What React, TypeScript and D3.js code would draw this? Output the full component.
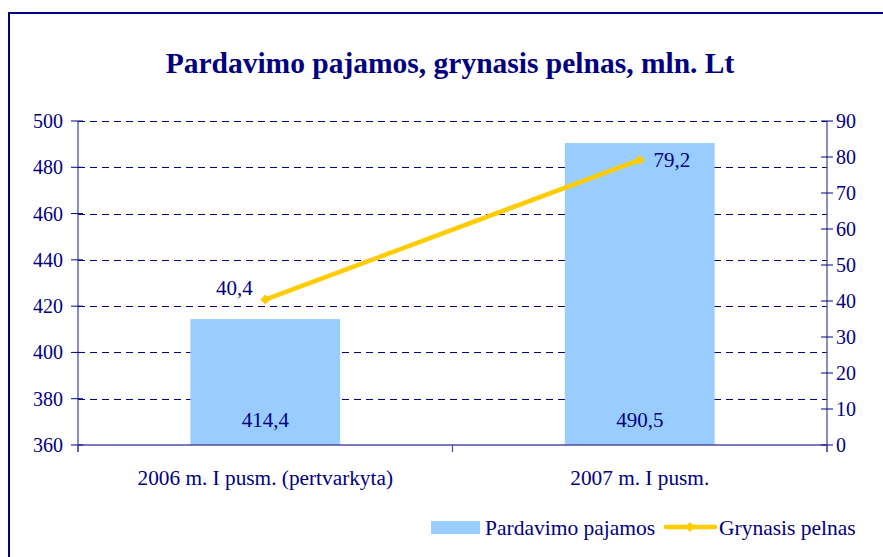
import React from "react";
import * as d3 from "d3";

const categories = ["2006 m. I pusm. (pertvarkyta)", "2007 m. I pusm."];
const revenue = [414.4, 490.5];
const profit = [40.4, 79.2];
const leftTicks = [360, 380, 400, 420, 440, 460, 480, 500];
const rightTicks = [0, 10, 20, 30, 40, 50, 60, 70, 80, 90];
const seriesNames = ["Pardavimo pajamos", "Grynasis pelnas"];
const title = "Pardavimo pajamos, grynasis pelnas, mln. Lt";

const W = 883, H = 557;
const NAVY = "#000080";
const FONT = "'Liberation Serif', 'Times New Roman', serif";

export default function App() {
  const left = 78, right = 827, top = 121, bottom = 445;
  const x = d3.scaleBand<string>().domain(categories).range([left, right]).paddingInner(0).paddingOuter(0);
  const yL = d3.scaleLinear().domain([360, 500]).range([bottom, top]);
  const yR = d3.scaleLinear().domain([0, 90]).range([bottom, top]);
  const bw = x.bandwidth() * 0.4;
  const cx = (c: string) => (x(c) as number) + x.bandwidth() / 2;
  const line = d3.line<number>().x((_, i) => cx(categories[i])).y(d => yR(d));
  const fmt = (v: number) => v.toFixed(1).replace(".", ",");

  return (
    <svg width={W} height={H} style={{ position: "absolute", left: 0, top: 0, background: "#fff" }} fontFamily={FONT}>
      <rect x={9} y={13} width={W + 20} height={H + 20} fill="none" stroke={NAVY} strokeWidth={2} />
      <text x={450} y={73} textAnchor="middle" fontSize={29.5} fontWeight="bold" fill={NAVY}>{title}</text>

      {/* gridlines */}
      {leftTicks.slice(1).map(t => (
        <line key={"g" + t} x1={left} x2={right} y1={Math.round(yL(t)) + 0.5} y2={Math.round(yL(t)) + 0.5}
          stroke={NAVY} strokeWidth={1} strokeDasharray="7,5" />
      ))}

      {/* bars */}
      {categories.map((c, i) => (
        <rect key={"b" + c} x={cx(c) - bw / 2} y={yL(revenue[i])} width={bw} height={bottom - yL(revenue[i])} fill="#99CCFF" />
      ))}

      {/* axes */}
      <line x1={left} x2={left} y1={top} y2={bottom + 7} stroke="#4d4da6" strokeWidth={1.3} />
      <line x1={right} x2={right} y1={top} y2={bottom + 7} stroke="#4d4da6" strokeWidth={1.3} />
      <line x1={left} x2={right} y1={bottom} y2={bottom} stroke="#4d4da6" strokeWidth={1.3} />
      {leftTicks.map(t => (
        <g key={"l" + t}>
          <line x1={left - 7} x2={left + 5} y1={yL(t)} y2={yL(t)} stroke={NAVY} strokeWidth={1} />
          <text x={63} y={yL(t) + 7} textAnchor="end" fontSize={20} fill={NAVY}>{t}</text>
        </g>
      ))}
      {rightTicks.map(t => (
        <g key={"r" + t}>
          <line x1={right - 6} x2={right + 6} y1={yR(t)} y2={yR(t)} stroke={NAVY} strokeWidth={1} />
          <text x={836} y={yR(t) + 7} textAnchor="start" fontSize={20} fill={NAVY}>{t}</text>
        </g>
      ))}
      {[left, left + x.bandwidth(), right].map((p, i) => (
        <line key={"ct" + i} x1={p} x2={p} y1={bottom} y2={bottom + 7} stroke="#4d4da6" strokeWidth={1.3} />
      ))}
      {categories.map(c => (
        <text key={"c" + c} x={cx(c)} y={485} textAnchor="middle" fontSize={21.3} fill={NAVY}>{c}</text>
      ))}

      {/* bar labels */}
      {categories.map((c, i) => (
        <text key={"bl" + c} x={cx(c)} y={427} textAnchor="middle" fontSize={21} fill={NAVY}>{fmt(revenue[i])}</text>
      ))}

      {/* line */}
      <path d={line(profit) || ""} fill="none" stroke="#FFCC00" strokeWidth={4.5} strokeLinejoin="round" />
      {profit.map((v, i) => {
        const px = cx(categories[i]), py = yR(v);
        return <path key={"m" + i} d={`M${px - 5},${py} L${px},${py - 5} L${px + 5},${py} L${px},${py + 5} Z`} fill="#FFCC00" />;
      })}
      <text x={cx(categories[0]) - 31} y={yR(profit[0]) - 5} textAnchor="middle" fontSize={21} fill={NAVY}>{fmt(profit[0])}</text>
      <text x={cx(categories[1]) + 32} y={yR(profit[1]) + 7} textAnchor="middle" fontSize={21} fill={NAVY}>{fmt(profit[1])}</text>

      {/* legend */}
      <rect x={431} y={521} width={49} height={13} fill="#99CCFF" />
      <text x={485} y={535} fontSize={21.5} fill={NAVY}>{seriesNames[0]}</text>
      <line x1={666} x2={715} y1={527} y2={527} stroke="#FFCC00" strokeWidth={4.5} strokeLinecap="round" />
      <path d="M685,527 L690,522 L695,527 L690,532 Z" fill="#FFCC00" />
      <text x={719} y={535} fontSize={21.5} fill={NAVY}>{seriesNames[1]}</text>
    </svg>
  );
}
